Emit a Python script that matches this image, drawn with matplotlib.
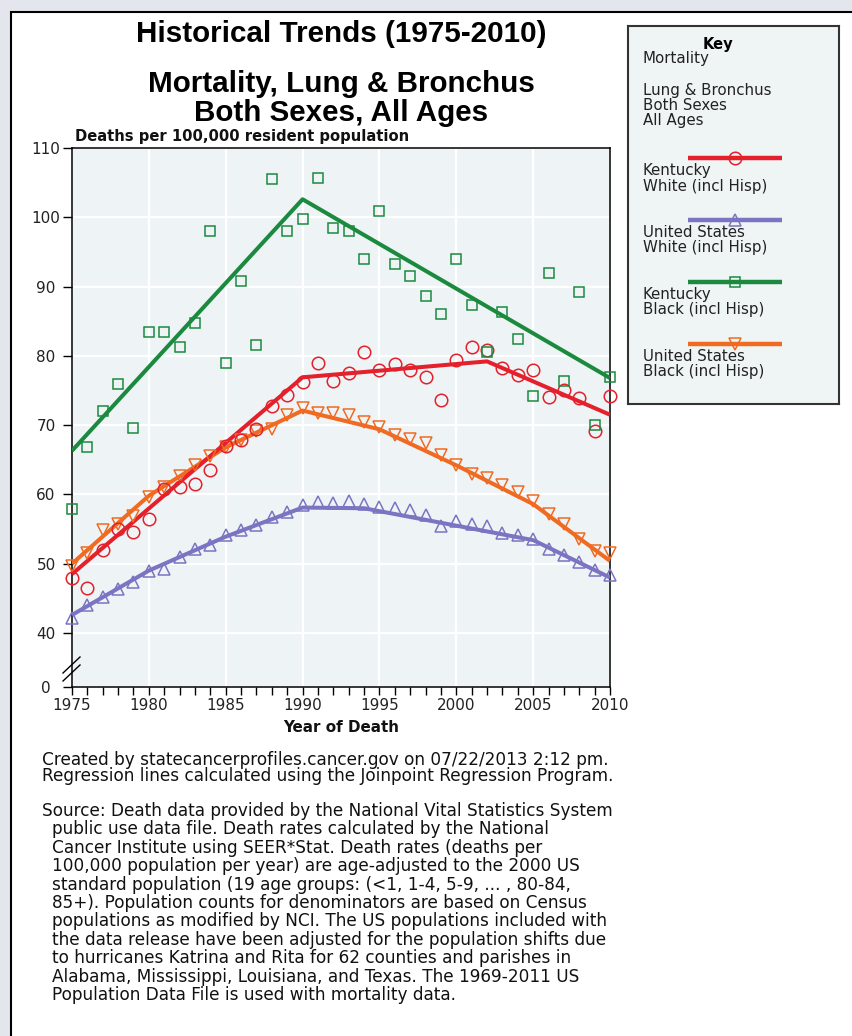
import matplotlib
matplotlib.use("Agg")
import matplotlib.pyplot as plt
from matplotlib.lines import Line2D
from matplotlib.patches import Rectangle

plt.rcParams["font.family"] = ["DejaVu Sans"]

W, H = 852, 1036

years = list(range(1975, 2011))

ky_white = [48.0, 46.5, 52.0, 55.0, 54.6, 56.5, 60.8, 61.1, 61.5, 63.5,
            67.0, 67.9, 69.5, 72.7, 74.3, 76.2, 79.0, 76.4, 77.5, 80.5,
            77.9, 78.8, 78.0, 77.0, 73.6, 79.4, 81.3, 80.8, 78.3, 77.3,
            77.9, 74.0, 75.0, 73.9, 69.2, 74.2]
us_white = [42.2, 44.0, 45.2, 46.4, 47.3, 48.9, 49.3, 51.0, 52.1, 52.7,
            54.1, 54.9, 55.6, 56.8, 57.5, 58.5, 58.9, 58.8, 59.0, 58.6,
            58.2, 58.1, 57.8, 57.0, 55.4, 56.1, 55.7, 55.4, 54.5, 54.1,
            53.6, 52.1, 51.3, 50.2, 49.1, 48.3]
ky_black = [57.9, 66.8, 72.0, 76.0, 69.6, 83.5, 83.5, 81.3, 84.8, 98.0,
            78.9, 90.8, 81.6, 105.5, 98.0, 99.7, 105.7, 98.4, 98.0, 94.0,
            100.9, 93.3, 91.5, 88.6, 86.0, 94.0, 87.3, 80.6, 86.4, 82.4,
            74.2, 91.9, 76.4, 89.2, 70.0, 76.9]
us_black = [49.7, 51.5, 54.9, 55.7, 56.9, 59.6, 61.0, 62.7, 64.2, 65.6,
            66.8, 67.8, 69.2, 69.5, 71.5, 72.5, 71.8, 71.8, 71.5, 70.5,
            69.8, 68.6, 68.0, 67.4, 65.7, 64.3, 63.0, 62.3, 61.3, 60.3,
            59.0, 57.2, 55.7, 53.6, 51.9, 51.6]

# joinpoint regression lines (vertices)
ky_white_jp_years = [1975, 1990, 2002, 2010]
ky_white_jp = [48.5, 76.9, 79.2, 71.5]
us_white_jp_years = [1975, 1980, 1985, 1990, 1994, 2005, 2010]
us_white_jp = [42.6, 49.0, 53.9, 58.1, 58.0, 53.4, 48.0]
ky_black_jp_years = [1975, 1990, 2010]
ky_black_jp = [66.3, 102.6, 76.8]
us_black_jp_years = [1975, 1980, 1985, 1990, 1995, 2000, 2005, 2010]
us_black_jp = [50.0, 59.8, 66.8, 72.1, 69.4, 64.2, 58.6, 50.4]

y_ticks = [40, 50, 60, 70, 80, 90, 100, 110]
y_zero = 32.2  # where the broken axis puts "0"

RED, PURPLE, GREEN, ORANGE = "#e3202b", "#7b74c2", "#1b8a3e", "#f06a22"

series = [
    ("United States\nWhite (incl Hisp)", us_white, us_white_jp_years, us_white_jp, PURPLE, "^", 8.5),
    ("United States\nBlack (incl Hisp)", us_black, us_black_jp_years, us_black_jp, ORANGE, "v", 8.5),
    ("Kentucky\nWhite (incl Hisp)", ky_white, ky_white_jp_years, ky_white_jp, RED, "o", 9.0),
    ("Kentucky\nBlack (incl Hisp)", ky_black, ky_black_jp_years, ky_black_jp, GREEN, "s", 7.5),
]

NARROW = ["Liberation Sans Narrow", "Liberation Sans", "DejaVu Sans"]


def fx(x):
    return x / W


def fy(y):
    return 1 - y / H


fig = plt.figure(figsize=(W / 100, H / 100), dpi=100, facecolor="#e4e6ee")
fig.patches.append(Rectangle((fx(11), -0.1), 1.2, fy(12) + 0.1, transform=fig.transFigure,
                             facecolor="white", edgecolor="black", lw=1.5, zorder=-5))

# ---- titles ----
fig.text(fx(341), fy(42), "Historical Trends (1975-2010)", ha="center", va="baseline",
         fontsize=21.3, fontweight="bold", family=NARROW)
fig.text(fx(341), fy(92), "Mortality, Lung & Bronchus", ha="center", va="baseline",
         fontsize=21.3, fontweight="bold", family=NARROW)
fig.text(fx(341), fy(121), "Both Sexes, All Ages", ha="center", va="baseline",
         fontsize=21.3, fontweight="bold", family=NARROW)
fig.text(fx(75), fy(141), "Deaths per 100,000 resident population", ha="left", va="baseline",
         fontsize=10.6, fontweight="bold", color="#111111")

# ---- main plot ----
ax = fig.add_axes([fx(72), fy(687), (610 - 72) / W, (687 - 148) / H])
ax.set_facecolor("#eef4f5")
ax.set_xlim(1975, 2010)
ax.set_ylim(y_zero, 110)
ax.set_yticks([y_zero] + y_ticks)
ax.set_yticklabels(["0"] + [str(v) for v in y_ticks])
ax.set_xticks(years[::5])
ax.set_xticks(years, minor=True)
ax.grid(True, which="major", color="white", lw=1.6)
ax.set_axisbelow(True)
for sp in ax.spines.values():
    sp.set_color("black")
    sp.set_linewidth(1.1)
ax.tick_params(axis="y", direction="out", length=6.5, width=1, pad=12.2,
               labelsize=11, labelcolor="#222222")
for t in ax.get_yticklabels():
    t.set_horizontalalignment("center")
ax.tick_params(axis="x", which="both", direction="out", length=6, width=1, pad=2,
               labelsize=11, labelcolor="#222222")

for name, vals, jy, jv, col, mk, ms in series:
    ax.plot(jy, jv, color=col, lw=2.9, solid_capstyle="butt", zorder=3)
    ax.plot(years, vals, ls="none", marker=mk, ms=ms, mfc="none", mec=col, mew=1.1,
            clip_on=False, zorder=4)

# axis break marks
for dy in (0, 8):
    fig.add_artist(Line2D([fx(63), fx(80)], [fy(673 + dy), fy(657 + dy)],
                          transform=fig.transFigure, color="black", lw=1))

fig.text(fx(341), fy(727), "Year of Death", ha="center", va="center",
         fontsize=10.9, fontweight="bold", color="#111111")

# ---- key ----
kax = fig.add_axes([fx(628), fy(404), (839 - 628) / W, (404 - 26) / H])
kax.set_xlim(628, 839)
kax.set_ylim(404, 26)
kax.set_facecolor("#eff4f5")
kax.set_xticks([])
kax.set_yticks([])
for sp in kax.spines.values():
    sp.set_color("#333333")
    sp.set_linewidth(1.5)
kax.text(718, 44, "Key", ha="center", va="center", fontsize=10.5, fontweight="bold")
kfs = 10.8
kax.text(643, 59, "Mortality", va="center", fontsize=kfs, color="#222222")
for y, s in [(90, "Lung & Bronchus"), (105, "Both Sexes"), (120, "All Ages")]:
    kax.text(643, y, s, va="center", fontsize=kfs, color="#222222")

key_order = [2, 0, 3, 1]
key_y = [158, 220, 282, 344]
for idx, ly in zip(key_order, key_y):
    name, vals, jy, jv, col, mk, ms = series[idx]
    kax.plot([688, 782], [ly, ly], color=col, lw=3.2, solid_capstyle="butt")
    kax.plot([735], [ly], ls="none", marker=mk, ms=ms, mfc="none", mec=col, mew=1.1)
    l1, l2 = name.split("\n")
    kax.text(643, ly + 13, l1, va="center", fontsize=kfs, color="#222222")
    kax.text(643, ly + 28, l2, va="center", fontsize=kfs, color="#222222")

# ---- footer ----
fs = 12.2
fig.text(fx(42), fy(760), "Created by statecancerprofiles.cancer.gov on 07/22/2013 2:12 pm.",
         va="center", fontsize=fs, color="#111111")
fig.text(fx(42), fy(776), "Regression lines calculated using the Joinpoint Regression Program.",
         va="center", fontsize=fs, color="#111111")
source_lines = [
    "Source: Death data provided by the National Vital Statistics System",
    "public use data file. Death rates calculated by the National",
    "Cancer Institute using SEER*Stat. Death rates (deaths per",
    "100,000 population per year) are age-adjusted to the 2000 US",
    "standard population (19 age groups: (<1, 1-4, 5-9, ... , 80-84,",
    "85+). Population counts for denominators are based on Census",
    "populations as modified by NCI. The US populations included with",
    "the data release have been adjusted for the population shifts due",
    "to hurricanes Katrina and Rita for 62 counties and parishes in",
    "Alabama, Mississippi, Louisiana, and Texas. The 1969-2011 US",
    "Population Data File is used with mortality data.",
]
for i, s in enumerate(source_lines):
    fig.text(fx(42 if i == 0 else 52), fy(811 + 18.4 * i), s, va="center",
             fontsize=fs, color="#111111")

fig.savefig("out.png", dpi=100, facecolor=fig.get_facecolor())
